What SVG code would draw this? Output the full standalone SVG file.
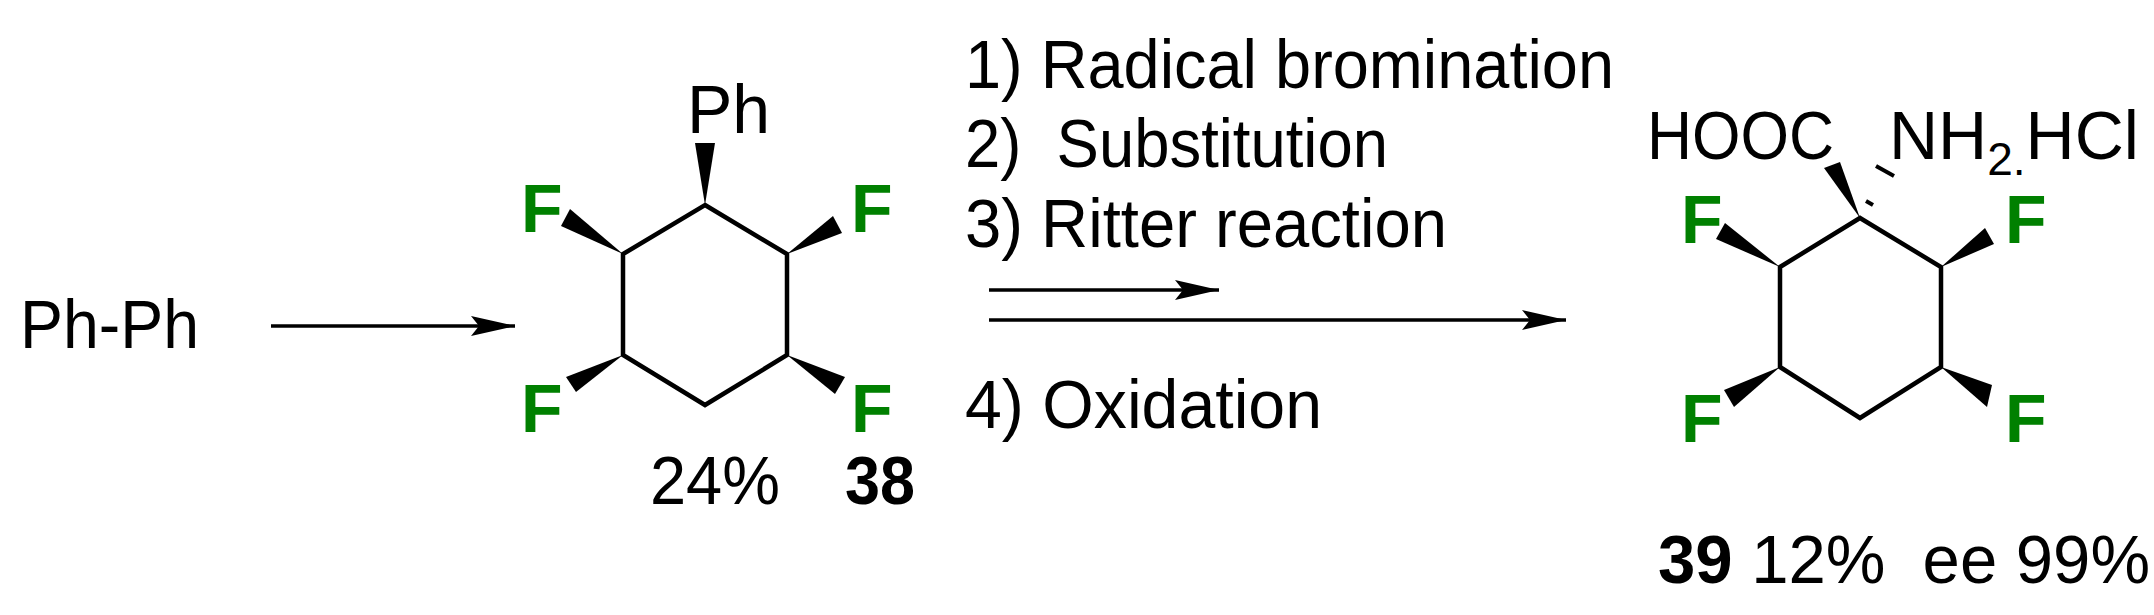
<svg xmlns="http://www.w3.org/2000/svg" width="2154" height="615" viewBox="0 0 2154 615">
<style>
text{font-family:"Liberation Sans",Arial,sans-serif;fill:#000}
.t{font-size:68px}
.f{font-size:68px;font-weight:bold;fill:#008000}
.b{font-weight:bold}
.bond{stroke:#000;stroke-width:4.5;fill:none;stroke-linejoin:miter}
.ar{stroke:#000;stroke-width:3.5;fill:none}
</style>
<defs>
<marker id="ah" markerWidth="44" markerHeight="24" refX="44" refY="12" orient="auto" markerUnits="userSpaceOnUse">
<path d="M0,2 L44,12 L0,22 L8,12 Z" fill="#000"/>
</marker>
</defs>
<g id="reactant"><text class="t" x="20" y="348" font-size="64" textLength="179" lengthAdjust="spacingAndGlyphs">Ph-Ph</text></g>
<g id="compound38">
<polygon class="bond" points="705,205 787,254 787,355 705,405 623,355 623,254"/>
<polygon points="705,205 695,143 715,143"/>
<polygon points="623,254 561,226 570,209"/>
<polygon points="787,254 833,216 842,233"/>
<polygon points="623,355 576,392 566,377"/>
<polygon points="787,355 835,394 845,377"/>
<text class="t" x="687" y="133">Ph</text>
<text class="f" x="521" y="232">F</text>
<text class="f" x="851" y="232">F</text>
<text class="f" x="521" y="432">F</text>
<text class="f" x="851" y="432">F</text>
<text class="t" x="650" y="504" textLength="130" lengthAdjust="spacingAndGlyphs">24%</text>
<text class="t b" x="845" y="504" textLength="70" lengthAdjust="spacingAndGlyphs">38</text>
</g>
<g id="conditions">
<text class="t" x="965" y="88" textLength="649" lengthAdjust="spacingAndGlyphs">1) Radical bromination</text>
<text class="t" x="965" y="167" xml:space="preserve" textLength="423" lengthAdjust="spacingAndGlyphs">2)  Substitution</text>
<text class="t" x="965" y="247" textLength="482" lengthAdjust="spacingAndGlyphs">3) Ritter reaction</text>
<text class="t" x="965" y="428" textLength="357" lengthAdjust="spacingAndGlyphs">4) Oxidation</text>
</g>
<g id="compound39">
<polygon class="bond" points="1860,218 1941,267 1941,367 1860,418 1780,367 1780,267"/>
<polygon points="1860,218 1824,168 1840,162"/>
<line x1="1866" y1="201" x2="1873" y2="205" stroke="#000" stroke-width="4"/>
<line x1="1876" y1="166" x2="1894" y2="176" stroke="#000" stroke-width="4"/>
<polygon points="1780,267 1716,239 1725,223"/>
<polygon points="1941,267 1985,228 1994,244"/>
<polygon points="1780,367 1734,407 1724,390"/>
<polygon points="1941,367 1992,385 1987,407"/>
<text class="t" x="1647" y="159" textLength="187" lengthAdjust="spacingAndGlyphs">HOOC</text>
<text class="t" x="1889" y="159">NH<tspan font-size="46" dy="16">2.</tspan><tspan dy="-16">HCl</tspan></text>
<text class="f" x="1681" y="243">F</text>
<text class="f" x="2005" y="243">F</text>
<text class="f" x="1681" y="442">F</text>
<text class="f" x="2005" y="442">F</text>
<text class="t" x="1658" y="583" textLength="492" lengthAdjust="spacingAndGlyphs" xml:space="preserve"><tspan class="b">39</tspan> 12%  ee 99%</text>
</g>
<g id="connectors">
<line class="ar" x1="271" y1="326" x2="515" y2="326" marker-end="url(#ah)"/>
<line class="ar" x1="989" y1="290" x2="1219" y2="290" marker-end="url(#ah)"/>
<line class="ar" x1="989" y1="320" x2="1566" y2="320" marker-end="url(#ah)"/>
</g>
</svg>
